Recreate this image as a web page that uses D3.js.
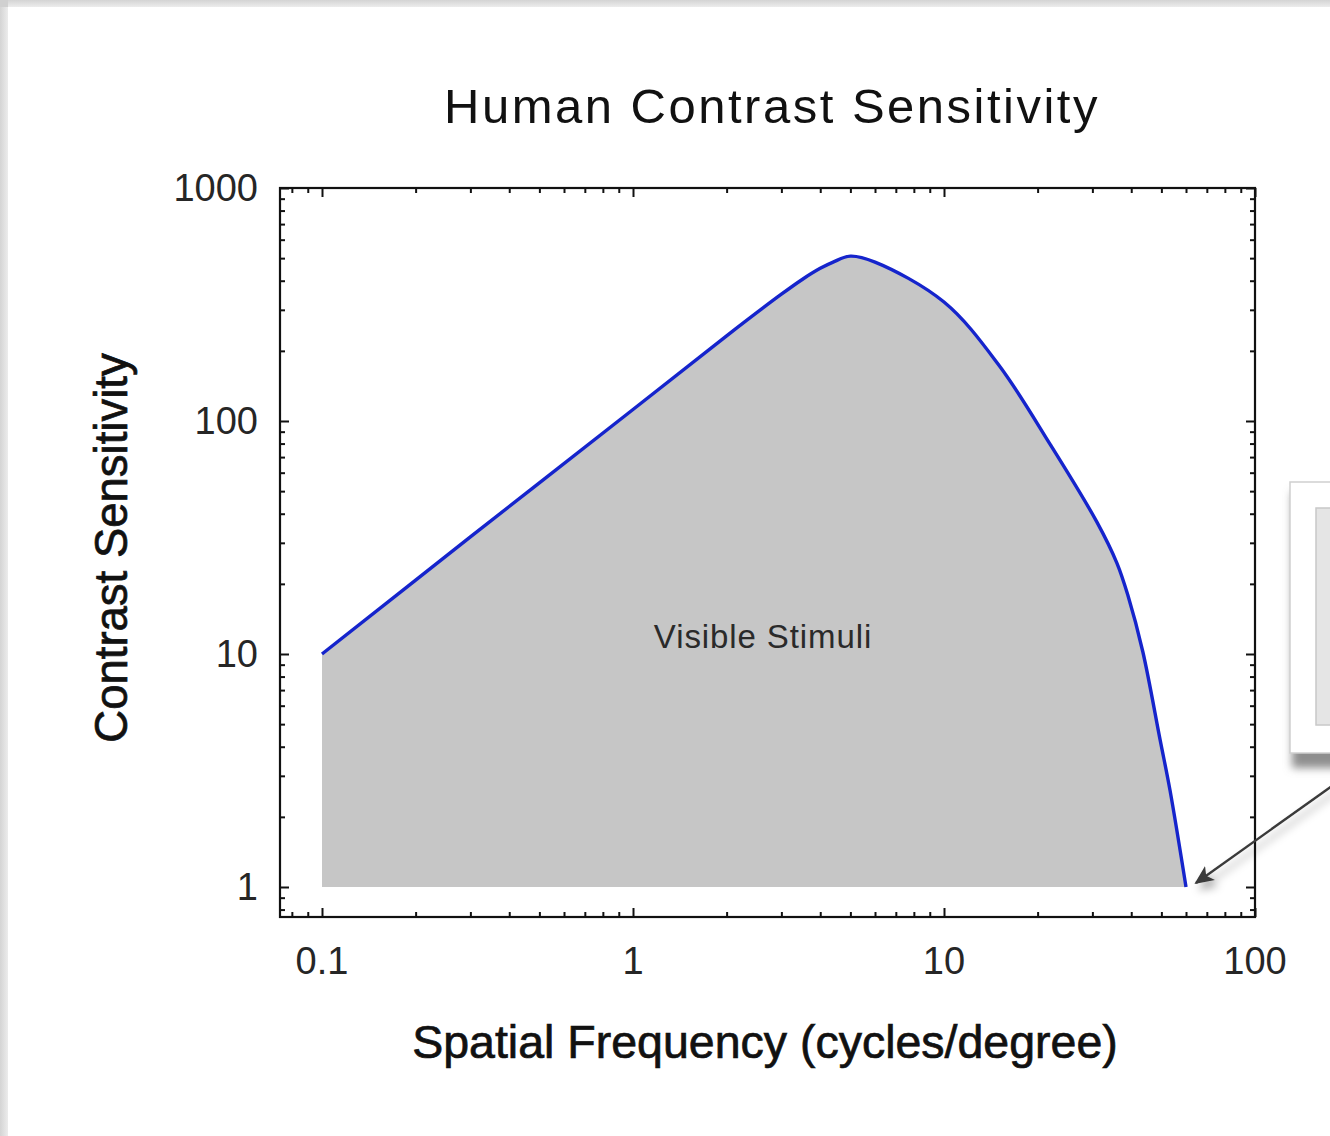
<!DOCTYPE html>
<html>
<head>
<meta charset="utf-8">
<script src="https://cdn.jsdelivr.net/npm/d3@7"></script>
<style>
  html, body { margin: 0; padding: 0; background: #fff; }
  svg { display: block; }
  text { font-family: "Liberation Sans", Arial, Helvetica, sans-serif; }
</style>
</head>
<body>
<svg id="chart" width="1330" height="1136"></svg>
<script>
// ---- data ----
const title = "Human Contrast Sensitivity";
const xLabel = "Spatial Frequency (cycles/degree)";
const yLabel = "Contrast Sensitivity";
const areaLabel = "Visible Stimuli";

const freq = [0.1, 0.3, 1, 2, 3, 3.5, 4, 4.4, 5, 6, 10, 15, 22, 31, 36, 39, 43.6, 49.5, 53.3, 60];
const sens = [10, 31.8, 112, 232, 350, 405, 452, 481, 510, 481, 324, 174, 79, 36.9, 24.5, 17.9, 10.2, 4.3, 2.6, 1];

const xTickValues = [0.1, 1, 10, 100];
const xTickLabels = ["0.1", "1", "10", "100"];
const yTickValues = [1, 10, 100, 1000];
const yTickLabels = ["1", "10", "100", "1000"];

// ---- layout ----
const W = 1330, H = 1136;
const plot = { left: 280, right: 1255, top: 188, bottom: 917 };

const svg = d3.select("#chart");
const defs = svg.append("defs");

// page frame / shadow
const gx = defs.append("linearGradient").attr("id", "shL").attr("x1", 0).attr("x2", 1).attr("y1", 0).attr("y2", 0);
gx.append("stop").attr("offset", 0).attr("stop-color", "#d4d4d4");
gx.append("stop").attr("offset", 1).attr("stop-color", "#ececec");
const gy = defs.append("linearGradient").attr("id", "shT").attr("x1", 0).attr("x2", 0).attr("y1", 0).attr("y2", 1);
gy.append("stop").attr("offset", 0).attr("stop-color", "#d4d4d4");
gy.append("stop").attr("offset", 1).attr("stop-color", "#ececec");

const blur = defs.append("filter").attr("id", "soft").attr("x", "-20%").attr("y", "-20%").attr("width", "160%").attr("height", "160%");
blur.append("feGaussianBlur").attr("stdDeviation", 4);

const arrowShadow = defs.append("filter").attr("id", "ashadow").attr("x", "-30%").attr("y", "-30%").attr("width", "160%").attr("height", "160%");
arrowShadow.append("feDropShadow").attr("dx", 4).attr("dy", 6).attr("stdDeviation", 4).attr("flood-color", "#000").attr("flood-opacity", 0.35);

svg.append("rect").attr("x", 0).attr("y", 0).attr("width", W).attr("height", H).attr("fill", "#fff");
svg.append("rect").attr("x", 0).attr("y", 0).attr("width", 8).attr("height", H).attr("fill", "url(#shL)");
svg.append("rect").attr("x", 0).attr("y", 0).attr("width", W).attr("height", 7).attr("fill", "url(#shT)");
svg.append("rect").attr("x", 0).attr("y", 0).attr("width", 8).attr("height", 7).attr("fill", "#d0d0d0");

// ---- scales ----
const decX = (plot.right - 322) / 3; // px per decade
const x = d3.scaleLog()
  .domain([0.1 * Math.pow(10, -(322 - plot.left) / decX), 100])
  .range([plot.left, plot.right]);
const decY = (887 - plot.top) / 3;
const y = d3.scaleLog()
  .domain([Math.pow(10, -(plot.bottom - 887) / decY), 1000])
  .range([plot.bottom, plot.top]);

// ---- filled area + curve ----
const pts = freq.map((f, i) => [x(f), y(sens[i])]);
const curveGen = d3.line().curve(d3.curveCatmullRom.alpha(0.5));
const curvePath = curveGen(pts);

const areaPath = curvePath + "L" + x(freq[freq.length - 1]) + "," + y(1) +
  "L" + x(freq[0]) + "," + y(1) + "Z";
svg.append("path").attr("d", areaPath).attr("fill", "#c6c6c6").attr("stroke", "none");

svg.append("path").attr("d", curvePath)
  .attr("fill", "none").attr("stroke", "#1524cc").attr("stroke-width", 3.4)
  .attr("stroke-linejoin", "round").attr("stroke-linecap", "butt");

svg.append("text").attr("x", 763).attr("y", 648)
  .attr("text-anchor", "middle").attr("font-size", 33).attr("letter-spacing", 0.9)
  .attr("fill", "#2a2a2a").text(areaLabel);

// ---- axes (ticks on all four sides, inward) ----
const majorLen = 9, minorLen = 5;
const xMinor = [], yMinor = [];
[0.01, 0.1, 1, 10].forEach(d => { for (let k = 2; k <= 9; k++) xMinor.push(d * k); });
[0.1, 1, 10, 100].forEach(d => { for (let k = 2; k <= 9; k++) yMinor.push(d * k); });
const xMin = xMinor.filter(v => v >= x.domain()[0] && v <= 100);
const yMin = yMinor.filter(v => v >= y.domain()[0] && v <= 1000);

function axisGroup(axisFn, scale, values, len, transform) {
  const g = svg.append("g").attr("transform", transform)
    .call(axisFn(scale).tickValues(values).tickSize(len).tickFormat(""));
  g.select(".domain").remove();
  g.selectAll(".tick line").attr("stroke", "#111").attr("stroke-width", 2);
  return g;
}
axisGroup(d3.axisTop, x, xTickValues, majorLen, `translate(0,${plot.bottom})`);
axisGroup(d3.axisTop, x, xMin, minorLen, `translate(0,${plot.bottom})`);
axisGroup(d3.axisBottom, x, xTickValues, majorLen, `translate(0,${plot.top})`);
axisGroup(d3.axisBottom, x, xMin, minorLen, `translate(0,${plot.top})`);
axisGroup(d3.axisRight, y, yTickValues, majorLen, `translate(${plot.left},0)`);
axisGroup(d3.axisRight, y, yMin, minorLen, `translate(${plot.left},0)`);
axisGroup(d3.axisLeft, y, yTickValues, majorLen, `translate(${plot.right},0)`);
axisGroup(d3.axisLeft, y, yMin, minorLen, `translate(${plot.right},0)`);

// frame
svg.append("rect")
  .attr("x", plot.left).attr("y", plot.top)
  .attr("width", plot.right - plot.left).attr("height", plot.bottom - plot.top)
  .attr("fill", "none").attr("stroke", "#111").attr("stroke-width", 2.2);

// tick labels
const xl = svg.append("g");
xTickValues.forEach((v, i) => {
  xl.append("text").attr("x", x(v)).attr("y", 974)
    .attr("text-anchor", "middle").attr("font-size", 38)
    .attr("fill", "#262626").text(xTickLabels[i]);
});
const yl = svg.append("g");
yTickValues.forEach((v, i) => {
  yl.append("text").attr("x", 258).attr("y", y(v) + 13)
    .attr("text-anchor", "end").attr("font-size", 38)
    .attr("fill", "#262626").text(yTickLabels[i]);
});

// titles
svg.append("text").attr("x", 772).attr("y", 123)
  .attr("text-anchor", "middle").attr("font-size", 49).attr("letter-spacing", 2.5)
  .attr("fill", "#111").text(title);

svg.append("text").attr("x", 765).attr("y", 1058)
  .attr("text-anchor", "middle").attr("font-size", 46.5)
  .attr("fill", "#111").attr("stroke", "#111").attr("stroke-width", 0.7)
  .text(xLabel);

svg.append("text")
  .attr("transform", `translate(127,548) rotate(-90)`)
  .attr("text-anchor", "middle").attr("font-size", 45.5)
  .attr("fill", "#111").attr("stroke", "#111").attr("stroke-width", 0.7)
  .text(yLabel);

// ---- callout box at right edge ----
const cb = svg.append("g");
cb.append("rect").attr("x", 1292).attr("y", 492).attr("width", 60).attr("height", 276)
  .attr("fill", "#8e8e8e").attr("filter", "url(#soft)");
cb.append("rect").attr("x", 1290).attr("y", 482).attr("width", 50).attr("height", 271)
  .attr("fill", "#fff").attr("stroke", "#cfcfcf").attr("stroke-width", 1.5);
cb.append("rect").attr("x", 1316).attr("y", 508).attr("width", 30).attr("height", 217)
  .attr("fill", "#e5e5e5").attr("stroke", "#c8c8c8").attr("stroke-width", 1.5);

// ---- arrow pointing at the curve's end ----
defs.append("marker").attr("id", "ah").attr("viewBox", "0 0 10 10")
  .attr("refX", 9).attr("refY", 5).attr("markerWidth", 8).attr("markerHeight", 8)
  .attr("markerUnits", "strokeWidth").attr("orient", "auto")
  .append("path").attr("d", "M0,0.5 L10,5 L0,9.5 L2.5,5 Z").attr("fill", "#3a3a3a");

const endX = x(freq[freq.length - 1]) + 10, endY = y(sens[sens.length - 1]) - 4;
svg.append("line")
  .attr("x1", 1332).attr("y1", 786).attr("x2", endX).attr("y2", endY)
  .attr("stroke", "#3a3a3a").attr("stroke-width", 2.4)
  .attr("marker-end", "url(#ah)").attr("filter", "url(#ashadow)");
</script>
</body>
</html>
